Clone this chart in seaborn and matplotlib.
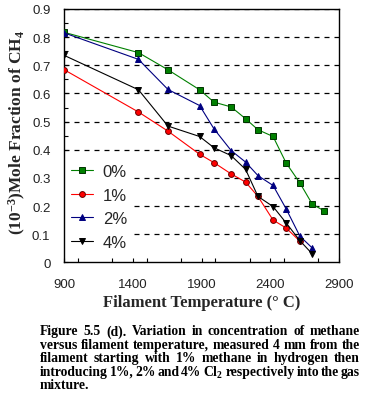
import matplotlib
matplotlib.use("Agg")
import matplotlib.pyplot as plt
from matplotlib.ticker import MultipleLocator
import seaborn as sns
import pandas as pd

# ---- data ----
temp_0 = [900, 1440, 1655, 1885, 1990, 2115, 2220, 2310, 2420, 2515, 2615, 2705, 2790]
ch4_0 = [0.817, 0.745, 0.684, 0.613, 0.569, 0.552, 0.510, 0.471, 0.447, 0.353, 0.282, 0.207, 0.183]

temp_1 = [900, 1440, 1655, 1885, 1990, 2115, 2220, 2310, 2420, 2515, 2615]
ch4_1 = [0.684, 0.534, 0.466, 0.384, 0.354, 0.314, 0.285, 0.234, 0.150, 0.122, 0.075]

temp_2 = [900, 1440, 1655, 1885, 1990, 2115, 2220, 2310, 2420, 2515, 2615, 2705]
ch4_2 = [0.815, 0.721, 0.614, 0.557, 0.474, 0.397, 0.356, 0.308, 0.273, 0.190, 0.093, 0.051]

temp_4 = [900, 1440, 1655, 1885, 1990, 2115, 2220, 2310, 2420, 2515, 2615, 2705]
ch4_4 = [0.735, 0.613, 0.484, 0.447, 0.407, 0.379, 0.330, 0.234, 0.198, 0.140, 0.077, 0.030]

labels = ["0%", "1%", "2%", "4%"]
x_ticks = [900, 1400, 1900, 2400, 2900]
y_ticks = [0, 0.1, 0.2, 0.3, 0.4, 0.5, 0.6, 0.7, 0.8, 0.9]

caption_lines = [
    "Figure 5.5 (d). Variation in concentration of methane",
    "versus filament temperature, measured 4  mm from the",
    "filament starting with 1% methane in hydrogen then",
    "introducing 1%, 2% and 4% Cl$_2$ respectively into the gas",
    "mixture.",
]

sns.set_theme(style="white")
plt.rcParams["mathtext.default"] = "regular"
plt.rcParams["font.family"] = ["Liberation Sans", "DejaVu Sans"]

W, H = 371, 402
fig = plt.figure(figsize=(W / 100, H / 100), dpi=100)
ax = fig.add_axes([64.3 / W, 1 - 263.3 / H, 274.7 / W, 253.3 / H])

series = [
    (temp_0, ch4_0, "#008000", "s", "#003300"),
    (temp_1, ch4_1, "#ff0000", "o", "#660000"),
    (temp_2, ch4_2, "#000080", "^", "#000080"),
    (temp_4, ch4_4, "#000000", "v", "#000000"),
]
for (xs, ys, col, mk, ec), lab in zip(series, labels):
    df = pd.DataFrame({"T": xs, "y": ys})
    sns.lineplot(data=df, x="T", y="y", ax=ax, color=col, marker=mk,
                 markersize=4.2, markeredgecolor=ec, markeredgewidth=0.7,
                 linewidth=0.8, label=lab, sort=False, zorder=3)

ax.set_xlim(900, 2900)
ax.set_ylim(0, 0.9)
ax.set_xticks(x_ticks)
ax.set_xticklabels([str(v) for v in x_ticks])
ax.set_yticks(y_ticks)
ax.set_yticklabels(["0" if v == 0 else f"{v:.1f}" for v in y_ticks])
ax.xaxis.set_minor_locator(MultipleLocator(250))
ax.yaxis.set_minor_locator(MultipleLocator(0.05))
ax.tick_params(which="both", direction="in", length=3, width=0.8, color="black",
               left=True, bottom=True, right=False, top=False)
ax.tick_params(axis="y", pad=10, labelsize=9.5, labelcolor="#222222")
ax.tick_params(axis="x", pad=11, labelsize=9.5, labelcolor="#222222")

for y in y_ticks[1:]:
    ax.axhline(y, color="black", linestyle=(0, (4, 4)), linewidth=0.9, zorder=1)

for s in ax.spines.values():
    s.set_color("black")
    s.set_linewidth(1.0)

ax.set_xlabel("Filament Temperature (° C)", family="Liberation Serif",
              fontweight="bold", fontsize=12)
ax.xaxis.set_label_coords(0.5, -0.157)
ax.xaxis.label.set_va("center")
ax.set_ylabel("(10$^{-3}$)Mole Fraction of CH$_4$", family="Liberation Serif",
              fontweight="bold", fontsize=12.5)
ax.yaxis.set_label_coords(-0.172, 0.515)
ax.yaxis.label.set_va("center")

leg = ax.legend(loc="upper left", bbox_to_anchor=(0.0, 0.415), frameon=True,
                fontsize=12, handlelength=1.3, handletextpad=0.6,
                labelspacing=0.52, borderpad=0.4, borderaxespad=0.0)
leg.get_frame().set_facecolor("white")
leg.get_frame().set_edgecolor("none")
leg.get_frame().set_alpha(1)
leg.set_zorder(2)

# ---- justified caption ----
fig.canvas.draw()
renderer = fig.canvas.get_renderer()
left_px, right_px = 40, 360
line_y = [332, 345.5, 359, 372.5, 386]
cap_kw = dict(family="Liberation Serif", fontweight="bold", fontsize=9.8,
              va="center", ha="left", color="black")
for i, line in enumerate(caption_lines):
    yf = 1 - line_y[i] / H
    words = line.split()
    if i == len(caption_lines) - 1:
        fig.text(left_px / W, yf, line, **cap_kw)
        continue
    tmp = [fig.text(0, 0, w, **cap_kw) for w in words]
    widths = [t.get_window_extent(renderer).width for t in tmp]
    for t in tmp:
        t.remove()
    gap = (right_px - left_px - sum(widths)) / (len(words) - 1)
    x = left_px
    for w, wd in zip(words, widths):
        fig.text(x / W, yf, w, **cap_kw)
        x += wd + gap

fig.savefig("out.png", dpi=100)
